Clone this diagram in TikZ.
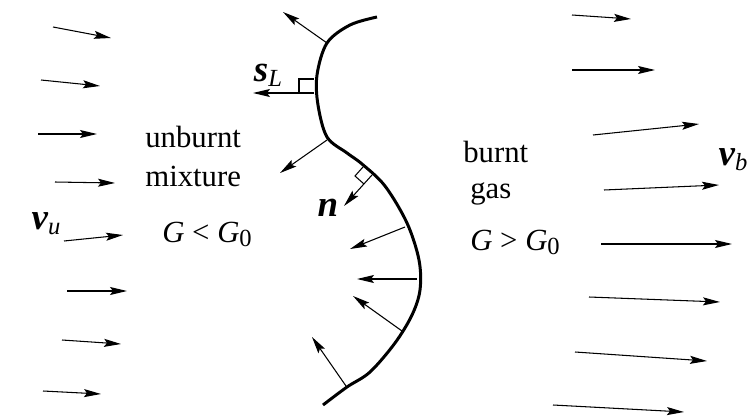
\documentclass[tikz,border=0pt]{standalone}
\usepackage{fontspec}
\setmainfont{Liberation Serif}
\usetikzlibrary{arrows.meta}
\newcommand{\lowsub}[1]{\raisebox{-0.3ex}{\fontsize{14}{16}\selectfont #1}}
\newcommand{\vecsym}[1]{\textbf{\textit{#1}}}

\begin{document}
\begin{tikzpicture}[x=0.02cm,y=-0.02cm,
  flow/.style={-{Stealth[length=3.4mm,width=1.6mm,inset=0.6mm]},line width=0.6pt},
  lbl/.style={font=\fontsize{17.5}{20}\selectfont,inner sep=0pt,anchor=base west},
  sym/.style={font=\fontsize{21}{24}\selectfont,inner sep=0pt}]
  \useasboundingbox (0,0) rectangle (750,419);
  % unburnt side
  \draw[flow] (53,27) -- (111,38);
  \draw[flow] (41,80) -- (100,86);
  \draw[flow] (38,134) -- (97,134);
  \draw[flow] (55,182) -- (115,183);
  \draw[flow] (64,241) -- (123,235);
  \draw[flow] (67,291) -- (127,291);
  \draw[flow] (62,340) -- (121,344);
  \draw[flow] (43,391) -- (101,394);
  % burnt side
  \draw[flow] (572,15) -- (631,19);
  \draw[flow] (572,70) -- (655,70);
  \draw[flow] (593,135) -- (699,124);
  \draw[flow] (604,190) -- (719,185);
  \draw[flow] (601,244) -- (732,244);
  \draw[flow] (589,297) -- (720,302);
  \draw[flow] (575,352) -- (707,361);
  \draw[flow] (553,405) -- (684,412);
  % flame front
  \draw[line width=1.7pt] plot[smooth,tension=0.55] coordinates {(377,17) (350,25) (327,43) (317,75) (318,105) (327,137) (347,153) (362,164) (385,186) (407,223) (419,260) (420,290) (412,315) (395,343) (370,372) (347,387) (323,405)};
  % normals
  \draw[flow] (327,43) -- (283,12);
  \draw[flow] (314,93) -- (253,93);
  \draw[line width=0.6pt] (299,93) -- (299,79) -- (314,79);
  \draw[flow] (327,140) -- (280,173);
  \draw[flow] (372,175) -- (344,206);
  \draw[line width=0.6pt] (364,184) -- (355,176) -- (363,167);
  \draw[flow] (405,227) -- (350,249);
  \draw[flow] (417,279) -- (357,279);
  \draw[flow] (402,331) -- (353,296);
  \draw[flow] (346,386) -- (312,337);
  % labels
  \node[sym] (vu) at (46,224) {\vecsym{v}\lowsub{\textit{u}}};
  \node[sym] (vb) at (733,160) {\vecsym{v}\lowsub{\textit{b}}};
  \node[sym] (sL) at (268,75) {\vecsym{s}\lowsub{\textit{L}}};
  \node[sym] (n) at (328,208) {\vecsym{n}};
  \node[lbl] (unburnt) at (145,147) {unburnt};
  \node[lbl] (mixture) at (145,186) {mixture};
  \node[lbl] (Gless) at (162,242) {\textit{G} < \textit{G}\lowsub{0}};
  \node[lbl] (burnt) at (463,162) {burnt};
  \node[lbl] (gas) at (470,198) {gas};
  \node[lbl] (Gmore) at (470,250) {\textit{G} > \textit{G}\lowsub{0}};
\end{tikzpicture}
\end{document}
